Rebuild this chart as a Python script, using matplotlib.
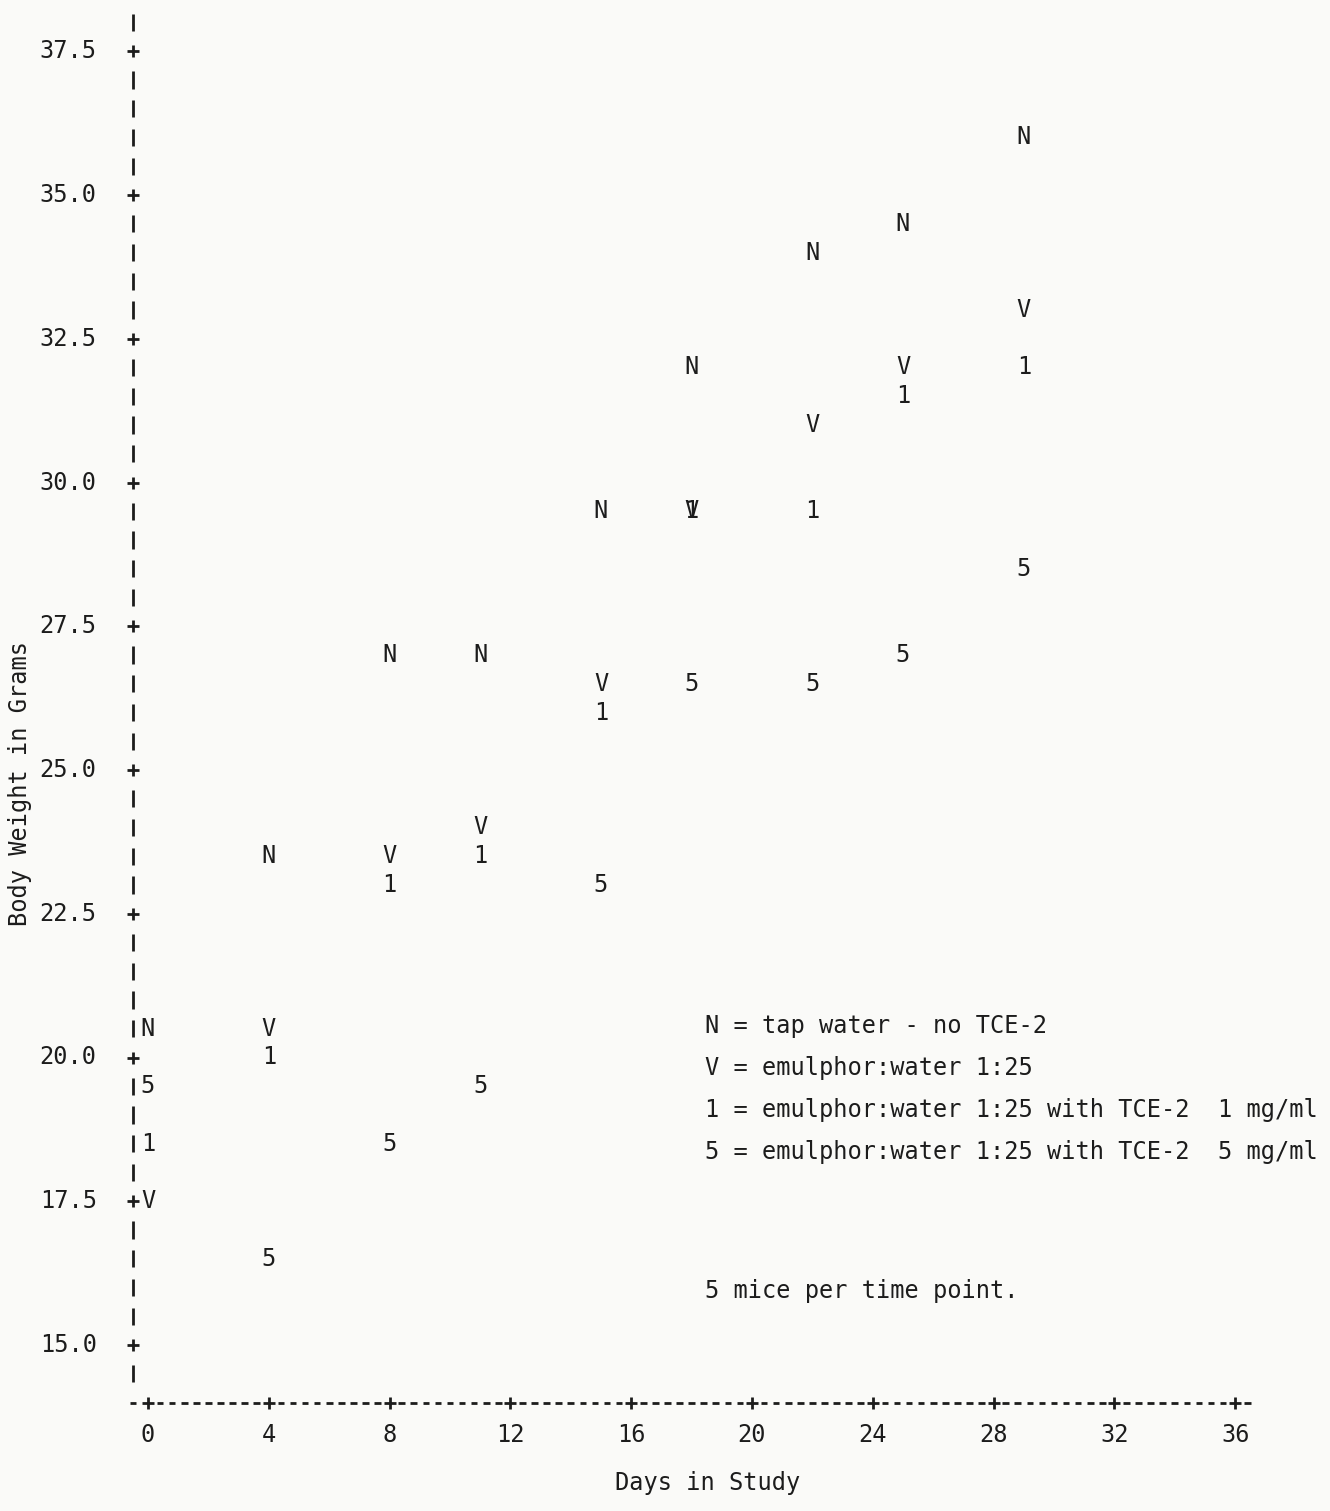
import numpy as np
import matplotlib
import matplotlib.pyplot as plt

matplotlib.use("Agg")

# data (days in study / body weight in grams)
days = [0, 4, 8, 11, 15, 18, 22, 25, 29]
weight_n = [20.5, 23.5, 27.0, 27.0, 29.5, 32.0, 34.0, 34.5, 36.0]
weight_v = [17.5, 20.5, 23.5, 24.0, 26.5, 29.5, 31.0, 32.0, 33.0]
weight_1 = [18.5, 20.0, 23.0, 23.5, 26.0, 29.5, 29.5, 31.5, 32.0]
weight_5 = [19.5, 16.5, 18.5, 19.5, 23.0, 26.5, 26.5, 27.0, 28.5]

x_ticks = [0, 4, 8, 12, 16, 20, 24, 28, 32, 36]
y_ticks = [15.0, 17.5, 20.0, 22.5, 25.0, 27.5, 30.0, 32.5, 35.0, 37.5]
y_tick_labels = ["15.0", "17.5", "20.0", "22.5", "25.0", "27.5", "30.0", "32.5", "35.0", "37.5"]

legend_lines = [
    "N = tap water - no TCE-2",
    "V = emulphor:water 1:25",
    "1 = emulphor:water 1:25 with TCE-2  1 mg/ml",
    "5 = emulphor:water 1:25 with TCE-2  5 mg/ml",
]
note = "5 mice per time point."

FONT = "DejaVu Sans Mono"
INK = "#1c1c1c"
FS = 17

W, H = 1330, 1511
fig = plt.figure(figsize=(W / 100, H / 100), dpi=100, facecolor="#fafaf8")

# axes box in pixels so the printer grid lands where it did on the page
left_px, right_px, top_px, bottom_px = 110, 1270, 0, 1420
ax = fig.add_axes([left_px / W, 1 - bottom_px / H,
                   (right_px - left_px) / W, (bottom_px - top_px) / H])
ax.set_facecolor("none")
px_per_day = 30.2
px_per_g = 57.5
ax.set_xlim((left_px - 148) / px_per_day, (right_px - 148) / px_per_day)
ax.set_ylim(15 - (bottom_px - 1345) / px_per_g, 15 + (1345 - top_px) / px_per_g)
ax.axis("off")

# vertical axis: "I" per row, "+" at labelled rows
axis_x = -0.5
rows = np.arange(14.5, 38.01, 0.5)
for r in rows:
    if np.isclose(r, y_ticks).any():
        continue
    ax.vlines(axis_x, r - 0.15, r + 0.15, color=INK, lw=2.0)
ax.plot([axis_x] * len(y_ticks), y_ticks, ls="none", marker="+", ms=9,
        mew=2.0, color=INK)
for yv, lab in zip(y_ticks, y_tick_labels):
    ax.text(-1.7, yv, lab, ha="right", va="center", fontsize=FS,
            family=FONT, color=INK)

# horizontal axis: dashed row with "+" every 4 days
axis_y = 14.0
cols = [axis_x] + [k * 0.4 for k in range(1, 92) if k % 10]
for c in cols:
    ax.hlines(axis_y, c - 0.11, c + 0.11, color=INK, lw=2.0)
ax.plot(x_ticks, [axis_y] * len(x_ticks), ls="none", marker="+", ms=9,
        mew=2.0, color=INK)
for xv in x_ticks:
    ax.text(xv, axis_y - 0.57, str(xv), ha="center", va="center",
            fontsize=FS, family=FONT, color=INK)

# plotted symbols
for sym, vals in [("N", weight_n), ("V", weight_v), ("1", weight_1), ("5", weight_5)]:
    for d, w in zip(days, vals):
        ax.text(d, w, sym, ha="center", va="center", fontsize=FS,
                family=FONT, color=INK)

# key typed onto the page
key_x = 18.45
for i, line in enumerate(legend_lines):
    ax.text(key_x, 20.55 - i * 0.73, line, ha="left", va="center",
            fontsize=FS, family=FONT, color=INK)
ax.text(key_x, 15.94, note, ha="left", va="center", fontsize=FS,
        family=FONT, color=INK)

fig.text(708 / W, 1 - 1483 / H, "Days in Study", ha="center", va="center",
         fontsize=FS, family=FONT, color=INK)
fig.text(20 / W, 1 - 783 / H, "Body Weight in Grams", ha="center",
         va="center", rotation=90, fontsize=FS, family=FONT, color=INK)

fig.savefig("out.png", dpi=100, facecolor=fig.get_facecolor())
